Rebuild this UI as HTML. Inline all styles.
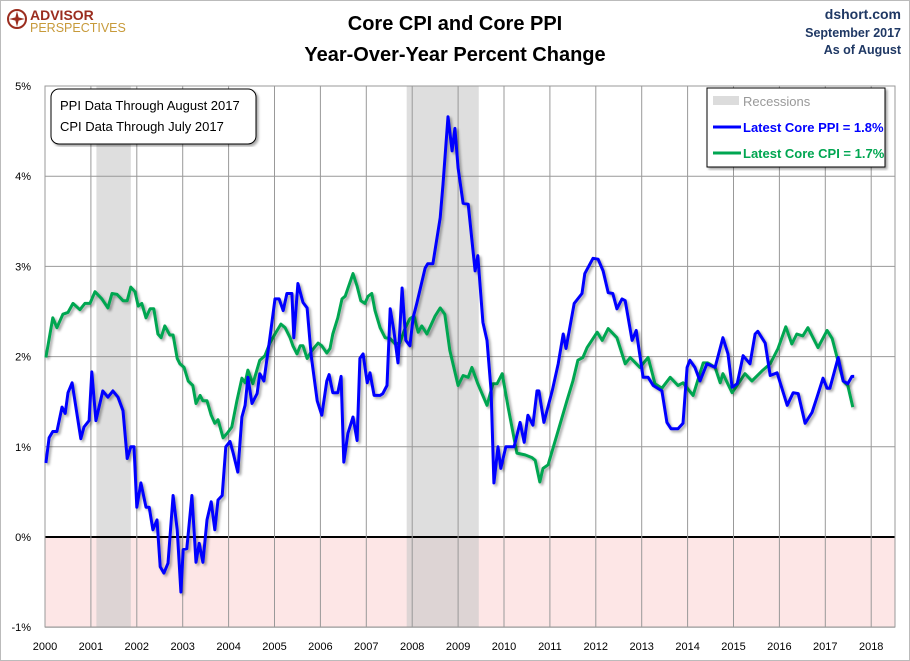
<!DOCTYPE html>
<html><head><meta charset="utf-8"><style>
body{margin:0;background:#fff;}
svg{display:block;font-family:"Liberation Sans",sans-serif;}
</style></head><body>
<svg id="chart" width="910" height="661">
<defs><filter id="sh" x="-5%" y="-5%" width="110%" height="110%"><feDropShadow dx="2" dy="2" stdDeviation="1.2" flood-color="#000" flood-opacity="0.35"/></filter></defs>
<rect x="0.5" y="0.5" width="909" height="660" fill="#fff" stroke="#bbb"/>
<g id="plot"></g>
<g>
<circle cx="17" cy="19" r="9" fill="#fff" stroke="#9b2d1f" stroke-width="2"/>
<path d="M17 11 L19 19 L17 27 L15 19Z M9 19 L17 17 L25 19 L17 21Z" fill="#9b2d1f"/>
<text x="30" y="20" font-size="14" font-weight="bold" fill="#9b2d1f">ADVISOR</text>
<text x="30" y="32" font-size="12.5" fill="#c79a3a">PERSPECTIVES</text>
</g>
<text x="455" y="30" text-anchor="middle" font-size="20" font-weight="bold" fill="#000">Core CPI and Core PPI</text>
<text x="455" y="61" text-anchor="middle" font-size="20" font-weight="bold" fill="#000">Year-Over-Year Percent Change</text>
<text x="901" y="19" text-anchor="end" font-size="14" font-weight="bold" fill="#1f3864">dshort.com</text>
<text x="901" y="37" text-anchor="end" font-size="12.5" font-weight="bold" fill="#1f3864">September 2017</text>
<text x="901" y="54" text-anchor="end" font-size="12.5" font-weight="bold" fill="#1f3864">As of August</text>
<g filter="url(#sh)">
<rect x="51" y="89" width="205" height="55" rx="8" fill="#fff" stroke="#000"/>
</g>
<text x="60" y="110" font-size="13" fill="#000">PPI Data Through August 2017</text>
<text x="60" y="131" font-size="13" fill="#000">CPI Data Through July 2017</text>
<g>
<rect x="707" y="88" width="178" height="79" fill="#fff" stroke="#000" filter="url(#sh)"/>
<rect x="713" y="96" width="26" height="9" fill="#dcdcdc"/>
<text x="743" y="106" font-size="13" fill="#999">Recessions</text>
<line x1="713" y1="127" x2="741" y2="127" stroke="#0000ff" stroke-width="3"/>
<text x="743" y="132" font-size="13" font-weight="bold" fill="#0000ff">Latest Core PPI = 1.8%</text>
<line x1="713" y1="153" x2="741" y2="153" stroke="#00a651" stroke-width="3"/>
<text x="743" y="158" font-size="13" font-weight="bold" fill="#00a651">Latest Core CPI = 1.7%</text>
</g>
</svg>
<script>
// years since 2000
const ppiT=[0.02,0.09,0.17,0.26,0.37,0.44,0.50,0.59,0.78,0.85,0.96,1.02,1.11,1.26,1.37,1.48,1.59,1.70,1.79,1.87,1.94,2.00,2.09,2.20,2.27,2.35,2.44,2.51,2.59,2.68,2.79,2.88,2.96,3.01,3.09,3.20,3.29,3.36,3.44,3.53,3.62,3.70,3.77,3.86,3.94,4.03,4.10,4.20,4.29,4.36,4.42,4.51,4.62,4.68,4.77,4.90,5.01,5.10,5.19,5.27,5.38,5.42,5.51,5.62,5.71,5.80,5.93,6.03,6.14,6.19,6.27,6.38,6.45,6.51,6.60,6.71,6.80,6.86,6.93,7.02,7.08,7.17,7.30,7.36,7.45,7.52,7.60,7.69,7.78,7.86,7.95,8.02,8.10,8.28,8.34,8.45,8.61,8.67,8.78,8.87,8.93,9.00,9.11,9.22,9.37,9.43,9.54,9.63,9.72,9.78,9.87,9.93,10.04,10.22,10.35,10.44,10.52,10.63,10.72,10.76,10.87,11.05,11.18,11.29,11.35,11.53,11.70,11.76,11.94,12.05,12.16,12.27,12.37,12.46,12.57,12.64,12.79,12.88,13.03,13.14,13.25,13.44,13.55,13.64,13.79,13.90,13.99,14.05,14.16,14.27,14.42,14.60,14.77,14.88,14.97,15.08,15.21,15.36,15.47,15.53,15.69,15.80,15.95,16.17,16.30,16.41,16.56,16.71,16.82,16.95,17.04,17.10,17.28,17.39,17.49,17.58,17.63];
const ppiV=[0.82,1.10,1.17,1.17,1.44,1.37,1.60,1.71,1.09,1.22,1.29,1.83,1.29,1.62,1.55,1.62,1.55,1.40,0.87,1.00,1.00,0.33,0.60,0.33,0.33,0.08,0.19,-0.33,-0.40,-0.29,0.46,0.08,-0.61,-0.14,-0.13,0.46,-0.28,-0.07,-0.28,0.19,0.39,0.08,0.41,0.46,1.00,1.06,0.93,0.72,1.33,1.46,1.77,1.48,1.59,1.81,1.73,2.21,2.64,2.64,2.51,2.70,2.70,2.21,2.81,2.60,2.54,2.01,1.51,1.35,1.73,1.80,1.60,1.60,1.78,0.83,1.15,1.33,1.07,1.98,2.03,1.71,1.82,1.57,1.57,1.59,1.68,2.53,2.29,1.93,2.76,2.18,2.12,2.43,2.59,2.98,3.03,3.03,3.54,3.91,4.66,4.28,4.53,4.09,3.70,3.69,2.95,3.12,2.38,2.18,1.62,0.60,1.00,0.76,1.00,1.00,1.27,1.05,1.35,1.24,1.62,1.62,1.27,1.62,1.92,2.25,2.09,2.59,2.70,2.92,3.09,3.08,2.95,2.71,2.70,2.53,2.64,2.62,2.18,2.29,1.77,1.77,1.68,1.62,1.27,1.20,1.20,1.26,1.88,1.96,1.88,1.73,1.92,1.88,2.21,2.03,1.66,1.70,2.01,1.92,2.25,2.28,2.15,1.79,1.82,1.46,1.60,1.59,1.26,1.38,1.55,1.76,1.65,1.65,1.99,1.73,1.70,1.78,1.78];
const cpiT=[0.02,0.17,0.26,0.39,0.50,0.61,0.76,0.87,0.98,1.09,1.24,1.37,1.46,1.57,1.70,1.79,1.87,1.96,2.03,2.11,2.20,2.29,2.37,2.46,2.53,2.61,2.72,2.79,2.88,2.94,3.03,3.12,3.22,3.29,3.38,3.44,3.53,3.62,3.70,3.77,3.88,3.97,4.07,4.18,4.29,4.36,4.42,4.53,4.68,4.79,4.90,5.01,5.14,5.23,5.34,5.40,5.49,5.56,5.62,5.71,5.82,5.95,6.03,6.14,6.21,6.27,6.38,6.47,6.54,6.71,6.80,6.88,6.97,7.04,7.12,7.19,7.30,7.41,7.52,7.63,7.73,7.84,7.95,8.04,8.13,8.21,8.32,8.50,8.61,8.71,8.82,9.00,9.11,9.22,9.30,9.43,9.63,9.76,9.85,9.96,10.09,10.28,10.46,10.61,10.68,10.78,10.85,10.96,11.18,11.37,11.50,11.61,11.72,11.81,12.03,12.14,12.27,12.46,12.64,12.75,12.96,13.14,13.29,13.44,13.62,13.79,13.90,14.12,14.34,14.44,14.60,14.71,14.77,14.97,15.25,15.40,15.64,15.80,15.97,16.14,16.27,16.38,16.51,16.62,16.84,17.04,17.15,17.39,17.49,17.60];
const cpiV=[1.99,2.43,2.32,2.47,2.49,2.59,2.52,2.59,2.59,2.72,2.64,2.54,2.70,2.69,2.62,2.62,2.77,2.72,2.56,2.59,2.43,2.53,2.53,2.25,2.21,2.34,2.24,2.24,1.98,1.92,1.88,1.73,1.68,1.48,1.57,1.51,1.51,1.35,1.26,1.30,1.10,1.15,1.22,1.51,1.76,1.71,1.85,1.70,1.96,2.01,2.15,2.25,2.36,2.32,2.21,2.12,2.03,2.12,2.12,1.98,2.07,2.15,2.12,2.04,2.09,2.25,2.43,2.64,2.67,2.92,2.78,2.62,2.59,2.67,2.70,2.51,2.32,2.21,2.20,2.14,2.15,2.31,2.42,2.45,2.27,2.34,2.25,2.45,2.54,2.47,2.07,1.68,1.79,1.77,1.88,1.70,1.46,1.70,1.70,1.81,1.44,0.93,0.91,0.88,0.85,0.61,0.76,0.80,1.18,1.51,1.73,1.96,1.99,2.10,2.27,2.18,2.31,2.21,1.92,1.99,1.88,1.99,1.70,1.65,1.77,1.68,1.71,1.57,1.93,1.93,1.88,1.71,1.81,1.60,1.81,1.73,1.85,1.92,2.09,2.33,2.14,2.25,2.23,2.32,2.10,2.29,2.20,1.73,1.68,1.44];
const recStart=[2001.12,2007.88];
const recEnd=[2001.87,2009.45];
const yTicks=[5,4,3,2,1,0,-1];
const xTicks=[2000,2001,2002,2003,2004,2005,2006,2007,2008,2009,2010,2011,2012,2013,2014,2015,2016,2017,2018];

const L=45,R=895,T=86,B=627;
const x=y=>45+45.9*(y-2000);
const yS=v=>537-90.2*v;
const g=document.getElementById('plot');
const NS='http://www.w3.org/2000/svg';
function mk(t,a,p){const e=document.createElementNS(NS,t);for(const k in a)e.setAttribute(k,a[k]);(p||g).appendChild(e);return e;}

const neg=mk('rect',{x:L,y:yS(0),width:R-L,height:yS(-1)-yS(0),fill:'#fde6e6'});


recStart.forEach((s,i)=>{
 const r=mk('rect',{x:x(s),y:T,width:x(recEnd[i])-x(s),height:B-T,fill:'#c8c8c8','fill-opacity':0.6});
 
 
});
yTicks.forEach(v=>{
 const l=mk('line',{x1:L,x2:R,y1:yS(v),y2:yS(v),stroke:v===0?'#000':'#999','stroke-width':v===0?2:1});
 
 
 const t=mk('text',{x:31,y:yS(v)+4,'text-anchor':'end','font-size':11,fill:'#000'});
 t.textContent=v+'%';
 
 
});
xTicks.forEach(yr=>{
 const l=mk('line',{x1:x(yr),x2:x(yr),y1:T,y2:B,stroke:'#999','stroke-width':1});
 
 
 const t=mk('text',{x:x(yr),y:650,'text-anchor':'middle','font-size':11,fill:'#000'});
 t.textContent=yr;
 
 
});
mk('rect',{x:L,y:T,width:R-L,height:B-T,fill:'none',stroke:'#999'});
function line(ts,vs,col,name){
 const d=ts.map((t,i)=>(i?'L':'M')+x(2000+t).toFixed(1)+' '+yS(vs[i]).toFixed(1)).join(' ');
 const p=mk('path',{d:d,fill:'none',stroke:col,'stroke-width':3,'stroke-linejoin':'round',filter:'url(#sh)'});
 
 
}
line(cpiT,cpiV,'#00a651','core-cpi-line');
line(ppiT,ppiV,'#0000ff','core-ppi-line');
</script>
</body></html>
